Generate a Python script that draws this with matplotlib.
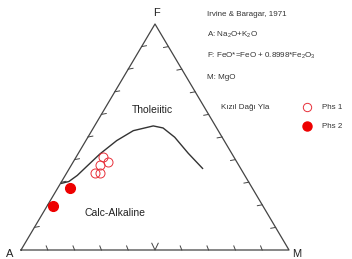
import numpy as np
import matplotlib
matplotlib.use('Agg')
import matplotlib.pyplot as plt

plt.rcParams['font.family'] = ['Liberation Sans', 'DejaVu Sans']
plt.rcParams['mathtext.default'] = 'regular'

# Irvine & Baragar (1971) divide line, (A, F, M) fractions
line_A = [0.701, 0.670, 0.625, 0.571, 0.493, 0.401, 0.317, 0.232, 0.200, 0.177, 0.162, 0.142]
line_F = [0.295, 0.303, 0.330, 0.369, 0.425, 0.484, 0.528, 0.549, 0.540, 0.499, 0.428, 0.361]
line_M = [0.004, 0.027, 0.045, 0.060, 0.082, 0.115, 0.155, 0.219, 0.260, 0.324, 0.410, 0.497]

# samples
phs1_A = [0.487, 0.479, 0.518, 0.555, 0.536]
phs1_F = [0.413, 0.391, 0.376, 0.339, 0.339]
phs1_M = [0.100, 0.130, 0.106, 0.106, 0.125]

phs2_A = [0.681, 0.782]
phs2_F = [0.273, 0.196]
phs2_M = [0.046, 0.022]

ticks = np.arange(0.1, 1.0, 0.1)


def tern(a, f, m):
    a, f, m = np.asarray(a, float), np.asarray(f, float), np.asarray(m, float)
    s = a + f + m
    return (m + f / 2) / s, f / s


W, H = 352, 259
fig = plt.figure(figsize=(W / 100, H / 100), dpi=100)
ax = fig.add_axes([0, 0, 1, 1])
ax.set_xlim(-21 / 268, (W - 21) / 268)
ax.set_ylim(-9 / 226, 250 / 226)
ax.axis('off')

ec = '#444444'
# triangle
tx, ty = tern([1, 0, 0, 1], [0, 1, 0, 0], [0, 0, 1, 0])
ax.plot(tx, ty, color=ec, lw=0.9)

# tick marks on each edge
for t in ticks:
    # bottom edge A-M
    x0, y0 = tern(1 - t, 0, t)
    if abs(t - 0.5) < 1e-6:
        ax.plot([x0 - 0.012, x0, x0 + 0.012], [y0 + 0.03, y0, y0 + 0.03], color=ec, lw=0.7)
    else:
        ax.plot([x0, x0 - 0.006], [y0, y0 + 0.018], color=ec, lw=0.7)
    # left edge A-F
    x0, y0 = tern(1 - t, t, 0)
    ax.plot([x0, x0 + 0.018], [y0, y0 + 0.004], color=ec, lw=0.7)
    # right edge F-M
    x0, y0 = tern(0, 1 - t, t)
    ax.plot([x0, x0 - 0.018], [y0, y0 - 0.004], color=ec, lw=0.7)

# divide line
lx, ly = tern(line_A, line_F, line_M)
ax.plot(lx, ly, color='#333333', lw=1.0)

# samples
x1, y1 = tern(phs1_A, phs1_F, phs1_M)
ax.plot(x1, y1, 'o', markerfacecolor='none', markeredgecolor='#e8303a',
        markersize=6.5, markeredgewidth=0.7, linestyle='none')
x2, y2 = tern(phs2_A, phs2_F, phs2_M)
ax.plot(x2, y2, 'o', color='#ee0000', markersize=7, linestyle='none')


def px(x, y):
    return x / W, 1 - y / H


tr = fig.transFigure
ax.text(*px(156, 13), 'F', transform=tr, fontsize=8, ha='center', va='center', color='#222222')
ax.text(*px(10, 254), 'A', transform=tr, fontsize=8, ha='center', va='center', color='#222222')
ax.text(*px(297, 254), 'M', transform=tr, fontsize=8, ha='center', va='center', color='#222222')

ax.text(*px(152, 110), 'Tholeiitic', transform=tr, fontsize=7.5, ha='center', va='center', color='#222222')
ax.text(*px(115, 213), 'Calc-Alkaline', transform=tr, fontsize=7.5, ha='center', va='center', color='#222222')

info = ['Irvine & Baragar, 1971', 'A: Na$_2$O+K$_2$O',
        'F: FeO*=FeO + 0.8998*Fe$_2$O$_3$', 'M: MgO']
for i, s in enumerate(info):
    ax.text(*px(207, 14 + i * 21), s, transform=tr, fontsize=5.8, ha='left', va='center', color='#333333')

# legend
ax.text(*px(221, 107), 'Kızıl Dağı Yla', transform=tr, fontsize=5.8, ha='left', va='center', color='#333333')
ax.plot(*px(307, 107), 'o', transform=tr, markerfacecolor='none', markeredgecolor='#e8303a',
        markersize=6, markeredgewidth=0.7)
ax.plot(*px(307, 126), 'o', transform=tr, color='#ee0000', markersize=6.5)
ax.text(*px(322, 107), 'Phs 1', transform=tr, fontsize=5.8, ha='left', va='center', color='#333333')
ax.text(*px(322, 126), 'Phs 2', transform=tr, fontsize=5.8, ha='left', va='center', color='#333333')

fig.savefig('out.png', dpi=100)
